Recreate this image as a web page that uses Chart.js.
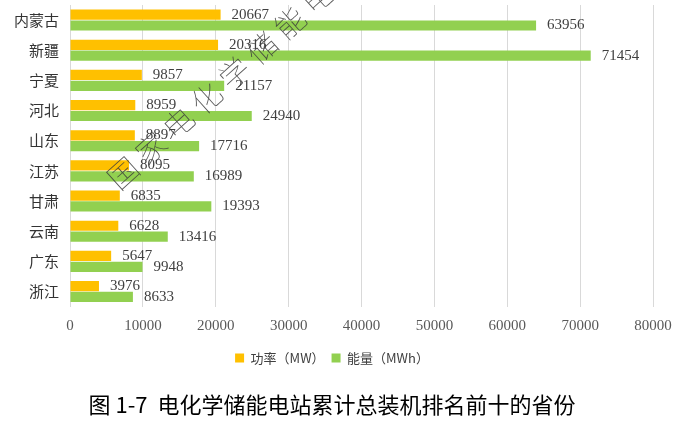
<!DOCTYPE html>
<html lang="zh">
<head>
    <meta charset="UTF-8">
    <title>电化学储能电站累计总装机排名前十的省份</title>
    <script src="https://cdn.jsdelivr.net/npm/chart.js"></script>
    <style>
        html, body { margin: 0; padding: 0; background: #fff; }
        #wrap { width: 700px; height: 423px; }
    </style>
</head>
<body>
    <div id="wrap"><canvas id="chart"></canvas></div>
    <script>
        // 省份与装机数据
        const provinces = ['内蒙古', '新疆', '宁夏', '河北', '山东', '江苏', '甘肃', '云南', '广东', '浙江'];
        const powerMW = [20667, 20316, 9857, 8959, 8897, 8095, 6835, 6628, 5647, 3976];
        const energyMWh = [63956, 71454, 21157, 24940, 17716, 16989, 19393, 13416, 9948, 8633];
        const seriesNames = ['功率（MW）', '能量（MWh）'];
        const captionText = '图 1-7  电化学储能电站累计总装机排名前十的省份';
        const watermarkText = '国家电化学储能电站安全监测信息平台';

        const serif = '"Liberation Serif", "DejaVu Serif", serif';
        const cjk = '"Noto Sans CJK SC", sans-serif';

        // 数值标签
        const valueLabels = {
            id: 'valueLabels',
            afterDatasetsDraw(chart) {
                const ctx = chart.ctx;
                ctx.save();
                ctx.font = '15px ' + serif;
                ctx.fillStyle = '#404040';
                ctx.textBaseline = 'middle';
                ctx.textAlign = 'left';
                chart.data.datasets.forEach((ds, i) => {
                    chart.getDatasetMeta(i).data.forEach((bar, j) => {
                        ctx.fillText(String(ds.data[j]), bar.x + 11, bar.y);
                    });
                });
                ctx.restore();
            }
        };

        // 水印（斜向细字）
        const watermark = {
            id: 'watermark',
            afterDraw(chart) {
                const ctx = chart.ctx;
                ctx.save();
                ctx.translate(123, 173);
                ctx.rotate(-42 * Math.PI / 180);
                ctx.font = '100 30px ' + cjk;
                ctx.fillStyle = 'rgba(60,60,60,0.85)';
                ctx.textBaseline = 'middle';
                ctx.textAlign = 'center';
                let x = 0;
                for (const ch of watermarkText) {
                    ctx.fillText(ch, x, 0);
                    x += 37.4;
                }
                ctx.restore();
            }
        };

        new Chart(document.getElementById('chart'), {
            type: 'bar',
            data: {
                labels: provinces,
                datasets: [{
                    label: seriesNames[0],
                    data: powerMW,
                    backgroundColor: '#FFC000',
                    categoryPercentage: 0.72,
                    barPercentage: 0.94
                }, {
                    label: seriesNames[1],
                    data: energyMWh,
                    backgroundColor: '#92D050',
                    categoryPercentage: 0.72,
                    barPercentage: 0.94
                }]
            },
            options: {
                indexAxis: 'y',
                responsive: true,
                maintainAspectRatio: false,
                animation: false,
                layout: { padding: { left: 11, right: 47, top: 5, bottom: 5 } },
                scales: {
                    x: {
                        min: 0,
                        max: 80000,
                        ticks: {
                            stepSize: 10000,
                            padding: 10,
                            color: '#595959',
                            font: { family: serif, size: 15 },
                            maxRotation: 0,
                            callback: v => String(v)
                        },
                        grid: { color: '#d9d9d9', drawTicks: false },
                        border: { display: false }
                    },
                    y: {
                        ticks: {
                            padding: 3,
                            color: '#333333',
                            font: { family: cjk, size: 15 }
                        },
                        grid: { display: false },
                        border: { display: false },
                        afterFit(scale) {
                            scale.paddingTop = 0;
                            scale.paddingBottom = 0;
                        }
                    }
                },
                plugins: {
                    legend: {
                        position: 'bottom',
                        labels: {
                            boxWidth: 9,
                            boxHeight: 9,
                            padding: 7,
                            color: '#404040',
                            font: { family: cjk, size: 13 }
                        }
                    },
                    title: {
                        display: true,
                        position: 'bottom',
                        text: captionText,
                        color: '#000',
                        font: { family: cjk, size: 22, weight: 'normal' },
                        padding: { top: 17, bottom: 0 }
                    },
                    tooltip: { enabled: false }
                }
            },
            plugins: [valueLabels, watermark]
        });
    </script>
</body>
</html>
